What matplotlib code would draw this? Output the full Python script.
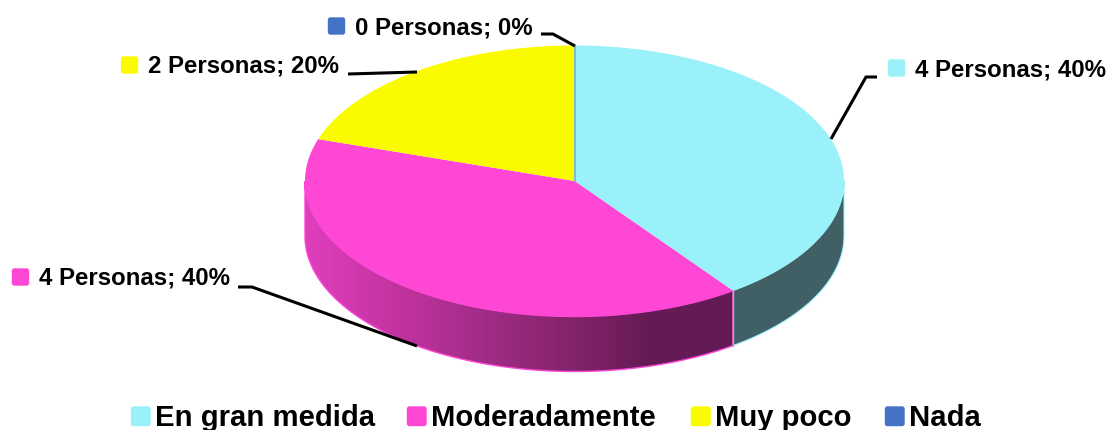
import numpy as np
import matplotlib
matplotlib.use('Agg')
import matplotlib.pyplot as plt
from matplotlib.patches import Polygon, FancyBboxPatch
from matplotlib.colors import LinearSegmentedColormap

# Data
categories = ['En gran medida', 'Moderadamente', 'Muy poco', 'Nada']
persons = [4, 4, 2, 0]
percents = [40, 40, 20, 0]
colors = ['#9BF1FA', '#FF47D6', '#FBFB00', '#4472C4']
wall_teal = '#406065'

# Geometry of the fake 3D pie, in pixels
CX, CY, RX, RY, DEPTH = 574.5, 181, 269.5, 135.5, 55

plt.rcParams['font.family'] = ['Liberation Sans', 'DejaVu Sans']
plt.rcParams['font.weight'] = 'bold'

fig = plt.figure(figsize=(11.07, 4.30), dpi=100)
ax = fig.add_axes([0, 0, 1, 1])
ax.set_xlim(0, 1107)
ax.set_ylim(430, 0)
ax.axis('off')


def rim(a, b, dy=0):
    # a, b clockwise from 12 o'clock, in degrees
    t = np.radians(np.linspace(a, b, max(int(abs(b - a)) * 2, 2)))
    return np.column_stack([CX + RX * np.sin(t), CY + dy - RY * np.cos(t)])


def wall(a, b):
    return np.vstack([rim(a, b), rim(a, b, DEPTH)[::-1]])


edges = np.cumsum([0] + persons) / sum(persons) * 360

# Side walls
teal_end = edges[1]
ax.add_patch(Polygon(wall(90, teal_end), closed=True, fc=wall_teal, ec='#9BF1FA', lw=0.8, zorder=2))

grad = LinearSegmentedColormap.from_list('side', [(0, '#DF3EBD'), (0.22, '#C2339F'), (0.45, '#9C2B82'),
                                                  (0.69, '#7A2063'), (0.8, '#641A55'), (1, '#641A55')])
img = ax.imshow(np.linspace(0, 1, 256)[None, :], cmap=grad, aspect='auto',
                extent=(CX - RX, CX + RX * np.sin(np.radians(teal_end)), CY + RY + DEPTH, CY), zorder=2)
pink_wall = Polygon(wall(teal_end, 270), closed=True, fc='none', ec='#FF47D6', lw=1.0, zorder=3)
ax.add_patch(pink_wall)
img.set_clip_path(pink_wall)
ax.set_xlim(0, 1107)
ax.set_ylim(430, 0)
ax.plot(*np.array(rim(teal_end, teal_end, 0).tolist() + rim(teal_end, teal_end, DEPTH).tolist()).T,
        color='#A8B4BE', lw=1, zorder=4)

# Top face
for i in range(len(persons)):
    if persons[i] > 0:
        pts = np.vstack([[CX, CY], rim(edges[i], edges[i + 1])])
        ax.add_patch(Polygon(pts, closed=True, fc=colors[i], ec='none', zorder=5))
ax.plot([CX, CX], [CY, CY - RY], color='#6FB2E0', lw=1.2, zorder=6)

# Data labels: key square, text, leader line
label_pos = [(888, 68), (12, 277), (121, 65), (328, 26)]
leaders = [
    [(877, 77), (866, 77), (831, 139)],
    [(238, 287), (252, 287), (417, 346)],
    [(348, 74), (417, 72)],
    [(541, 34), (553, 34), (575, 46)],
]
for i in range(len(persons)):
    x, y = label_pos[i]
    ax.add_patch(FancyBboxPatch((x + 0.5, y - 8), 16, 16, boxstyle='round,pad=0,rounding_size=2',
                                fc=colors[i], ec=colors[i], lw=1.0, zorder=8))
    ax.text(x + 27, y + 1.5, f'{persons[i]} Personas; {percents[i]}%', fontsize=17.3, va='center', ha='left', zorder=8)
    lx, ly = zip(*leaders[i])
    ax.plot(lx, ly, color='black', lw=2.2, zorder=7, solid_capstyle='butt', solid_joinstyle='round')

# Legend
legend_x = [131, 407, 691, 885]
for i, name in enumerate(categories):
    ax.add_patch(FancyBboxPatch((legend_x[i] + 0.5, 407), 18.5, 18.5, boxstyle='round,pad=0,rounding_size=2',
                                fc=colors[i], ec=colors[i], lw=1.0, zorder=8))
    ax.text(legend_x[i] + 24, 418, name, fontsize=21.1, va='center', ha='left', zorder=8)

fig.savefig('out.png', dpi=100)
